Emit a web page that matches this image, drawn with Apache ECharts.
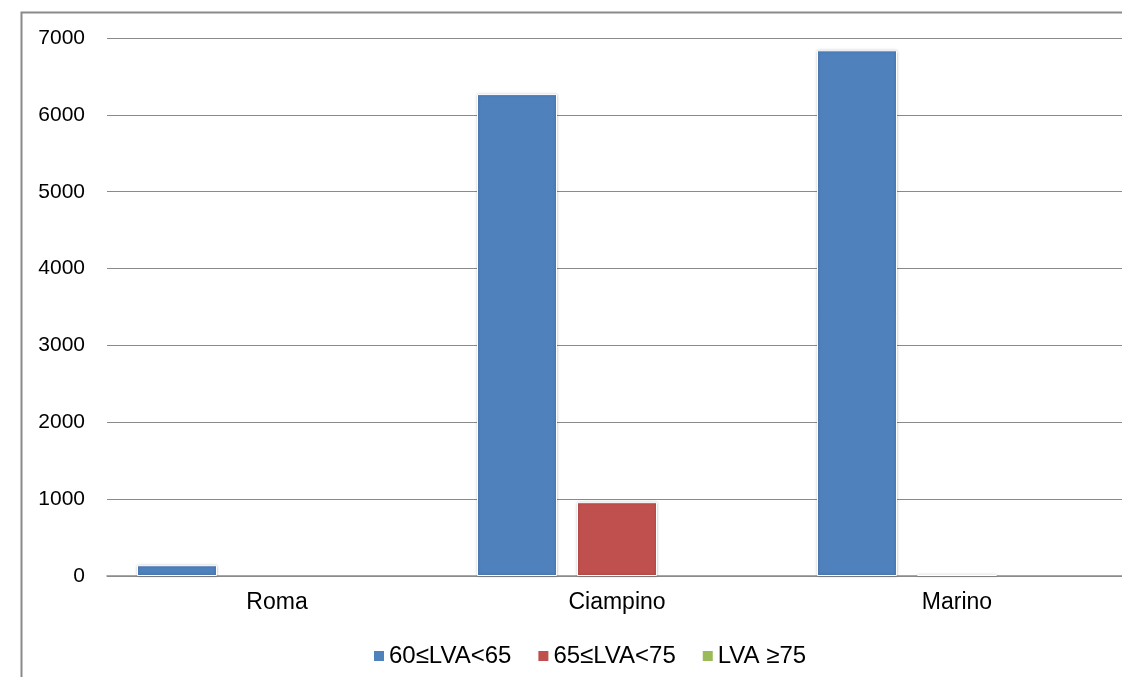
<!DOCTYPE html>
<html>
<head>
<meta charset="utf-8">
<script src="https://cdn.jsdelivr.net/npm/echarts@6/dist/echarts.min.js"></script>
<style>
  html, body { margin: 0; padding: 0; background: #fff; overflow: hidden; }
  /* the plot runs a few pixels past the right edge of the window */
  #chart { width: 1130px; height: 677px; }
</style>
</head>
<body>
<div id="chart"></div>
<script>
// Localities on the category axis
const categories = ['Roma', 'Ciampino', 'Marino'];

// Exposed population per noise band (LVA)
const seriesNames = ['60≤LVA<65', '65≤LVA<75', 'LVA ≥75'];
const band60to65 = [140, 6270, 6840];
const band65to75 = [0, 960, 15];
const band75plus = [0, 0, 0];

// Value axis ticks
const yMin = 0;
const yMax = 7000;
const yStep = 1000;

const colors = ['#4F81BD', '#C0504D', '#9BBB59'];
const textFont = '"Liberation Sans", Arial, sans-serif';

const chart = echarts.init(document.getElementById('chart'), null, { renderer: 'canvas' });

// Bars get a soft grey halo; empty bars are left undecorated
const barData = (values, c) => values.map((v) => ({
  value: v,
  itemStyle: v > 0
    ? { color: c, borderColor: '#ffffff', borderWidth: 1, shadowColor: 'rgba(0,0,0,0.25)', shadowBlur: 3 }
    : { color: c, borderWidth: 0, shadowBlur: 0, opacity: 0 }
}));

chart.setOption({
  animation: false,
  backgroundColor: '#fff',
  color: colors,
  graphic: [{
    type: 'rect',
    left: 19,
    top: 10,
    shape: { width: 1200, height: 800 },
    style: { fill: 'none', stroke: '#8a8a8a', lineWidth: 2 },
    silent: true,
    z: -1
  }],
  grid: { left: 107, right: 3, top: 38, bottom: 101, containLabel: false },
  legend: {
    top: 639,
    left: 369,
    itemWidth: 10,
    itemHeight: 10,
    itemGap: 27,
    icon: 'rect',
    textStyle: { fontFamily: textFont, fontSize: 24, color: '#000' },
    data: seriesNames
  },
  xAxis: {
    type: 'category',
    data: categories,
    axisLine: { lineStyle: { color: '#8a8a8a', width: 1.5 } },
    axisTick: { show: false },
    axisLabel: { fontFamily: textFont, fontSize: 23, color: '#000', margin: 15 }
  },
  yAxis: {
    type: 'value',
    min: yMin,
    max: yMax,
    interval: yStep,
    axisLine: { show: false },
    axisTick: { show: false },
    axisLabel: {
      fontFamily: textFont, fontSize: 21, color: '#000', margin: 22,
      formatter: (v) => String(v)
    },
    splitLine: { lineStyle: { color: '#8a8a8a', width: 1 } }
  },
  series: [
    { name: seriesNames[0], type: 'bar', data: barData(band60to65, colors[0]), barWidth: 80, barGap: '25%' },
    { name: seriesNames[1], type: 'bar', data: barData(band65to75, colors[1]), barWidth: 80, barGap: '25%' },
    { name: seriesNames[2], type: 'bar', data: barData(band75plus, colors[2]), barWidth: 80, barGap: '25%' }
  ]
});
</script>
</body>
</html>
